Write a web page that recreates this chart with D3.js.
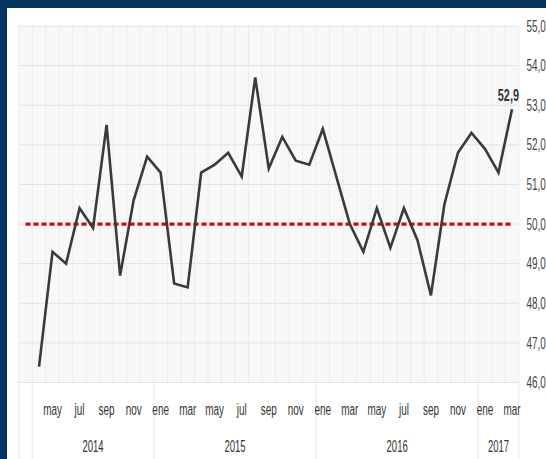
<!DOCTYPE html>
<html>
<head>
<meta charset="utf-8">
<script src="https://cdn.jsdelivr.net/npm/d3@7"></script>
<style>
html,body{margin:0;padding:0;background:#fff;}
svg{display:block;}
text{font-family:"Liberation Sans Narrow","Arial Narrow","Liberation Sans",Arial,sans-serif;}
</style>
</head>
<body>
<svg id="chart" width="546" height="459"></svg>
<script>
const categories = [
  "abr 2014","may 2014","jun 2014","jul 2014","ago 2014","sep 2014","oct 2014","nov 2014","dic 2014",
  "ene 2015","feb 2015","mar 2015","abr 2015","may 2015","jun 2015","jul 2015","ago 2015","sep 2015","oct 2015","nov 2015","dic 2015",
  "ene 2016","feb 2016","mar 2016","abr 2016","may 2016","jun 2016","jul 2016","ago 2016","sep 2016","oct 2016","nov 2016","dic 2016",
  "ene 2017","feb 2017","mar 2017"
];
const values = [
  46.4,49.3,49.0,50.4,49.9,52.5,48.7,50.6,51.7,
  51.3,48.5,48.4,51.3,51.5,51.8,51.2,53.7,51.4,52.2,51.6,51.5,
  52.4,51.2,50.0,49.3,50.4,49.4,50.4,49.6,48.2,50.5,51.8,52.3,
  51.9,51.3,52.9
];
const tickCategories = [
  "may 2014","jul 2014","sep 2014","nov 2014","ene 2015","mar 2015","may 2015","jul 2015","sep 2015","nov 2015",
  "ene 2016","mar 2016","may 2016","jul 2016","sep 2016","nov 2016","ene 2017","mar 2017"
];
const years = ["2014","2015","2016","2017"];
const yearStarts = ["abr 2014","ene 2015","ene 2016","ene 2017"];
const yTicks = [46,47,48,49,50,51,52,53,54,55];
const reference = 50;

(function(){
const svg = d3.select("#chart");
const W = 546, H = 459;
const frame = "#06335f";

svg.append("rect").attr("x",0).attr("y",0).attr("width",W).attr("height",H).attr("fill",frame);
svg.append("rect").attr("x",7).attr("y",8).attr("width",W-7).attr("height",H-8).attr("fill","#fff");

const domain = ["pad"].concat(categories);
const x = d3.scaleBand().domain(domain).range([18.75, 518.75]).padding(0);
const bw = x.bandwidth();
const cx = c => x(c) + bw/2;
const y = d3.scaleLinear().domain([46,55]).range([382.5, 26]);

const pLeft = x.range()[0], pRight = x.range()[1];
const pTop = y(55), pBottom = y(46);

svg.append("rect").attr("x",pLeft).attr("y",pTop).attr("width",pRight-pLeft).attr("height",pBottom-pTop).attr("fill","#f8f8f8");

const g = svg.append("g");
domain.forEach(c => {
  g.append("line").attr("x1",x(c)).attr("x2",x(c)).attr("y1",pTop).attr("y2",pBottom)
    .attr("stroke","#ebebeb").attr("stroke-width",1);
});
g.append("line").attr("x1",pRight).attr("x2",pRight).attr("y1",pTop).attr("y2",pBottom).attr("stroke","#ebebeb");

yTicks.forEach(v => {
  g.append("line").attr("x1",pLeft).attr("x2",pRight).attr("y1",y(v)).attr("y2",y(v))
    .attr("stroke","#e2e2e2").attr("stroke-width",1);
});

const seps = [pLeft].concat(yearStarts.map(c => x(c))).concat([pRight]);
seps.forEach(sx => {
  svg.append("line").attr("x1",sx).attr("x2",sx).attr("y1",pBottom).attr("y2",H)
    .attr("stroke","#e8e8e8").attr("stroke-width",1);
});

svg.append("line").attr("x1",cx("pad")).attr("x2",cx(categories[categories.length-1]))
  .attr("y1",y(reference)).attr("y2",y(reference))
  .attr("stroke","#cc0a0a").attr("stroke-width",3.2).attr("stroke-dasharray","5,3");

const line = d3.line().x((d,i)=>cx(categories[i])).y(d=>y(d));
svg.append("path").datum(values).attr("d",line).attr("fill","none")
  .attr("stroke","#3a3a3a").attr("stroke-width",2.6).attr("stroke-linejoin","miter");

const locale = d3.formatLocale({decimal:",",thousands:".",grouping:[3],currency:["","€"]});
const fmt = locale.format(".1f");
const lastI = values.length-1;
svg.append("text")
  .attr("transform",`translate(${cx(categories[lastI])+7},${y(values[lastI])-8}) scale(0.68,1)`)
  .attr("text-anchor","end").attr("font-size",16).attr("font-weight","bold").attr("fill","#333")
  .text(fmt(values[lastI]));

const yAxis = d3.axisRight(y).tickValues(yTicks).tickFormat(fmt).tickSize(0).tickPadding(0);
const ya = svg.append("g").attr("transform","translate(526.5,0)").call(yAxis);
ya.select(".domain").remove();
ya.selectAll("text").attr("font-size",16).attr("fill","#444").attr("x",0)
  .attr("transform","scale(0.62,1)")
  .style("font-family",'"Liberation Sans Narrow","Arial Narrow","Liberation Sans",sans-serif');

const xAxis = d3.axisBottom(x).tickValues(tickCategories).tickFormat(c => c.split(" ")[0]).tickSize(0).tickPadding(0);
const xa = svg.append("g").attr("transform","translate(0,403)").call(xAxis);
xa.select(".domain").remove();
xa.selectAll("text").attr("font-size",16).attr("fill","#333").attr("y",12).attr("dy",0)
  .attr("transform","scale(0.62,1)")
  .style("font-family",'"Liberation Sans Narrow","Arial Narrow","Liberation Sans",sans-serif');

years.forEach((yr,i) => {
  const x0 = x(yearStarts[i]);
  const x1 = i < years.length-1 ? x(yearStarts[i+1]) : pRight;
  svg.append("text").attr("transform",`translate(${(x0+x1)/2},452) scale(0.56,1)`).attr("text-anchor","middle")
    .attr("font-size",17).attr("fill","#333").text(yr);
});
})();
</script>
</body>
</html>
